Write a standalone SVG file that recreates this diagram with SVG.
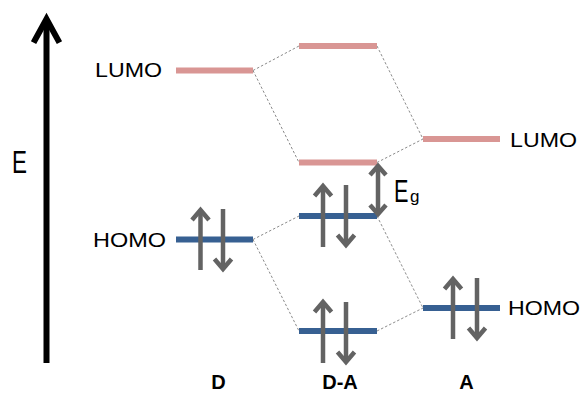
<svg xmlns="http://www.w3.org/2000/svg" width="582" height="394" viewBox="0 0 582 394">
<style>
.t{font-family:"Liberation Sans",Arial,sans-serif;fill:#000}
.lumo{stroke:#D99694;stroke-width:6;fill:none}
.homo{stroke:#376092;stroke-width:6;fill:none}
.dash{stroke:#8c8c8c;stroke-width:1;stroke-dasharray:2.5,2;fill:none}
.spin{stroke:#636363;stroke-width:4.5;fill:none}
.head{stroke:#636363;stroke-width:4.5;fill:none;stroke-linejoin:miter}
.b{font-weight:bold;font-size:20px}
</style>
<rect width="582" height="394" fill="#fff"/>
<g id="axis">
<line x1="46.5" y1="20" x2="46.5" y2="363" stroke="#000" stroke-width="6"/>
<polyline points="35,40 46.5,19 58,40" fill="none" stroke="#000" stroke-width="6" stroke-linecap="square"/>
<text class="t" x="12" y="173" font-size="31" textLength="15" lengthAdjust="spacingAndGlyphs">E</text>
</g>
<g id="connectors">
<line class="dash" x1="253" y1="70.5" x2="299" y2="46"/>
<line class="dash" x1="253" y1="70.5" x2="299" y2="162.5"/>
<line class="dash" x1="377" y1="46" x2="423" y2="139"/>
<line class="dash" x1="377" y1="162.5" x2="423" y2="139"/>
<line class="dash" x1="253" y1="239.5" x2="299" y2="216"/>
<line class="dash" x1="253" y1="239.5" x2="299" y2="331"/>
<line class="dash" x1="377" y1="216" x2="423" y2="308"/>
<line class="dash" x1="377" y1="331" x2="423" y2="308"/>
</g>
<g id="D-LUMO">
<line class="lumo" x1="176" y1="70.5" x2="253" y2="70.5"/>
<text class="t" x="95" y="77" font-size="21" textLength="67" lengthAdjust="spacingAndGlyphs">LUMO</text>
</g>
<g id="D-HOMO">
<line class="homo" x1="176" y1="239.5" x2="253" y2="239.5"/>
<text class="t" x="93" y="247" font-size="21" textLength="73" lengthAdjust="spacingAndGlyphs">HOMO</text>
<line class="spin" x1="200.5" y1="270" x2="200.5" y2="211"/>
<polyline class="head" points="192,220 200.5,210 209,220"/>
<line class="spin" x1="223" y1="209" x2="223" y2="268"/>
<polyline class="head" points="214.5,259 223,269 231.5,259"/>
</g>
<g id="DA-LUMO-upper">
<line class="lumo" x1="299" y1="46" x2="377" y2="46"/>
</g>
<g id="DA-LUMO-lower">
<line class="lumo" x1="299" y1="162.5" x2="377" y2="162.5"/>
</g>
<g id="DA-HOMO-upper">
<line class="homo" x1="299" y1="216" x2="377" y2="216"/>
<line class="spin" x1="323" y1="247" x2="323" y2="187"/>
<polyline class="head" points="314.5,196 323,186 331.5,196"/>
<line class="spin" x1="346" y1="185" x2="346" y2="244"/>
<polyline class="head" points="337.5,235 346,245 354.5,235"/>
</g>
<g id="DA-HOMO-lower">
<line class="homo" x1="299" y1="331" x2="377" y2="331"/>
<line class="spin" x1="323" y1="363" x2="323" y2="303"/>
<polyline class="head" points="314.5,312 323,302 331.5,312"/>
<line class="spin" x1="346" y1="302" x2="346" y2="361"/>
<polyline class="head" points="337.5,352 346,362 354.5,352"/>
</g>
<g id="A-LUMO">
<line class="lumo" x1="423" y1="139" x2="500" y2="139"/>
<text class="t" x="510" y="147" font-size="21" textLength="67" lengthAdjust="spacingAndGlyphs">LUMO</text>
</g>
<g id="A-HOMO">
<line class="homo" x1="423" y1="308" x2="500" y2="308"/>
<text class="t" x="508" y="315" font-size="21" textLength="72" lengthAdjust="spacingAndGlyphs">HOMO</text>
<line class="spin" x1="453" y1="339" x2="453" y2="280"/>
<polyline class="head" points="444.5,289 453,279 461.5,289"/>
<line class="spin" x1="477" y1="278" x2="477" y2="337"/>
<polyline class="head" points="468.5,328 477,338 485.5,328"/>
</g>
<g id="gap">
<line class="spin" x1="378" y1="167" x2="378" y2="213"/>
<polyline class="head" points="370,175 378,166 386,175"/>
<polyline class="head" points="370,205 378,214 386,205"/>
<text class="t" transform="translate(394,202) scale(0.7,1)" x="0" y="0" font-size="31">E</text>
<text class="t" x="410" y="202" font-size="17">g</text>
</g>
<g id="labels">
<text class="t b" x="218.5" y="389" text-anchor="middle">D</text>
<text class="t b" x="340" y="389" text-anchor="middle">D-A</text>
<text class="t b" x="466.5" y="389" text-anchor="middle">A</text>
</g>
</svg>
